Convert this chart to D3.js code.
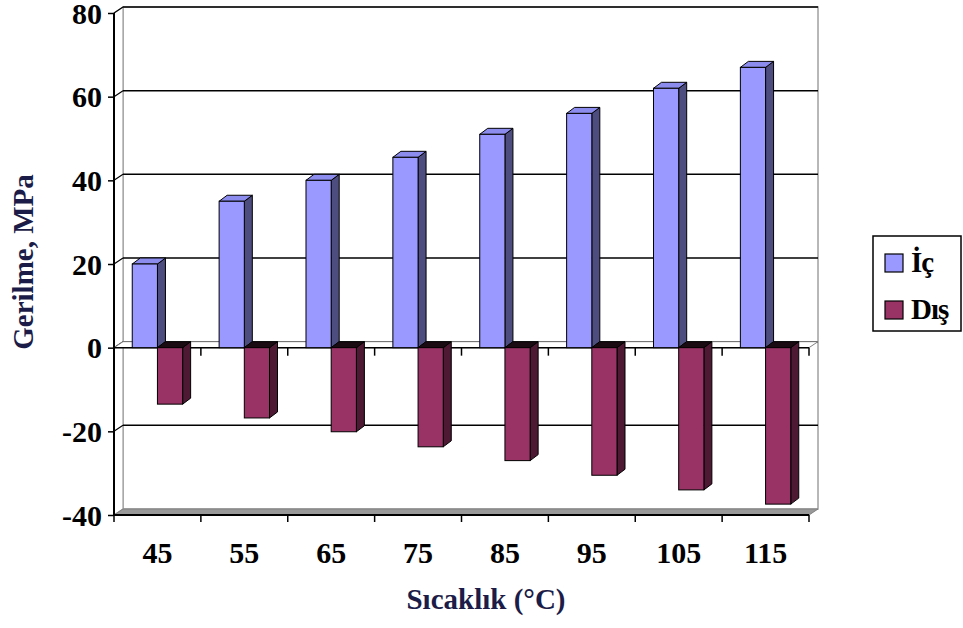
<!DOCTYPE html>
<html>
<head>
<meta charset="utf-8">
<script src="https://cdn.jsdelivr.net/npm/d3@7"></script>
<style>
body{margin:0;background:#fff;}
svg{display:block;}
text{font-family:"Liberation Serif","Times New Roman",serif;font-weight:bold;}
</style>
</head>
<body>
<script>
// dane
var sicakliklar=["45","55","65","75","85","95","105","115"];
var icDegerleri=[20,35,40,45.5,51,56,62,67];
var disDegerleri=[-13.5,-16.8,-20.1,-23.7,-27,-30.5,-34,-37.4];
var yEtiketleri=[-40,-20,0,20,40,60,80];
var seriler=["İç","Dış"];
var renkler={"İç":{on:"#9999ff",yan:"#4d4d80",ust:"#8c8cee"},"Dış":{on:"#993366",yan:"#4d1933",ust:"#1a0a12"}};

var W=963,H=628;
var svg=d3.select("body").append("svg").attr("width",W).attr("height",H);
svg.append("rect").attr("width",W).attr("height",H).attr("fill","#fff");

var lewo=114,prawo=809,gora=13,dol=515;
var gx=9,gy=-6;   // glebokosc scian
var bx=8,by=-6;   // glebokosc slupkow

var x=d3.scaleBand().domain(sicakliklar).range([lewo,prawo]).padding(0);
var y=d3.scaleLinear().domain([-40,80]).range([dol,gora]);
var bw=x.bandwidth(),barW=bw*0.29;
var xs=d3.scaleBand().domain(seriler).range([(bw-2*barW)/2,(bw+2*barW)/2]);

function pts(a){return a.map(function(p){return p.join(",");}).join(" ");}

// tylna sciana
svg.append("rect").attr("x",lewo+gx).attr("y",gora+gy).attr("width",prawo-lewo).attr("height",dol-gora)
  .attr("fill","#fff").attr("stroke","#a0a0a0").attr("stroke-width",1.5);
// lewa sciana
svg.append("polygon").attr("points",pts([[lewo,gora],[lewo+gx,gora+gy],[lewo+gx,dol+gy],[lewo,dol]]))
  .attr("fill","#fff").attr("stroke","#a0a0a0").attr("stroke-width",1.2);

// linie siatki
yEtiketleri.forEach(function(v){
  if(v===-40) return;
  var yy=y(v);
  svg.append("line").attr("x1",lewo+gx).attr("x2",prawo+gx).attr("y1",yy+gy).attr("y2",yy+gy)
    .attr("stroke","#000").attr("stroke-width",1.5);
  svg.append("line").attr("x1",lewo).attr("x2",lewo+gx).attr("y1",yy).attr("y2",yy+gy)
    .attr("stroke","#000").attr("stroke-width",1.2);
});

// podloga
svg.append("polygon").attr("points",pts([[lewo,dol],[lewo+gx,dol+gy],[prawo+gx,dol+gy],[prawo,dol]]))
  .attr("fill","#999").attr("stroke","#808080").attr("stroke-width",1);

// plaszczyzna zera
var y0=y(0);
svg.append("polygon").attr("points",pts([[lewo,y0],[lewo+gx,y0+gy],[prawo+gx,y0+gy],[prawo,y0]]))
  .attr("fill","#fff").attr("stroke","#808080").attr("stroke-width",1);
svg.append("line").attr("x1",lewo).attr("x2",prawo).attr("y1",y0).attr("y2",y0)
  .attr("stroke","#000").attr("stroke-width",1.5);
// kreski kategorii na zerze
sicakliklar.forEach(function(c){
  var xx=x(c)+bw;
  svg.append("line").attr("x1",xx).attr("x2",xx).attr("y1",y0).attr("y2",y0+8)
    .attr("stroke","#000").attr("stroke-width",1.5);
});

// slupki
sicakliklar.forEach(function(c,i){
  seriler.forEach(function(s){
    var v=(s==="İç")?icDegerleri[i]:disDegerleri[i];
    var x0=x(c)+xs(s),x1=x0+barW;
    var yt=y(Math.max(v,0)),yb=y(Math.min(v,0));
    var r=renkler[s];
    svg.append("polygon").attr("points",pts([[x1,yt],[x1+bx,yt+by],[x1+bx,yb+by],[x1,yb]]))
      .attr("fill",r.yan).attr("stroke","#000").attr("stroke-width",1);
    svg.append("polygon").attr("points",pts([[x0,yt],[x0+bx,yt+by],[x1+bx,yt+by],[x1,yt]]))
      .attr("fill",r.ust).attr("stroke","#000").attr("stroke-width",1);
    svg.append("rect").attr("x",x0).attr("y",yt).attr("width",barW).attr("height",yb-yt)
      .attr("fill",r.on).attr("stroke","#000").attr("stroke-width",1);
  });
});

// os Y
var osY=svg.append("g").attr("transform","translate("+lewo+",0)")
  .call(d3.axisLeft(y).tickValues(yEtiketleri).tickSize(6).tickPadding(6).tickFormat(function(d){return String(d);}));
osY.select(".domain").attr("stroke","#000").attr("stroke-width",2).attr("d","M0,"+gora+"V"+dol);
osY.selectAll(".tick line").attr("stroke","#000").attr("stroke-width",1.5);
osY.selectAll(".tick text").attr("fill","#000").style("font-size","30px").attr("dy","0.34em");

// os X
var osX=svg.append("g").attr("transform","translate(0,"+dol+")")
  .call(d3.axisBottom(x).tickSize(0).tickPadding(27));
osX.select(".domain").attr("stroke","#000").attr("stroke-width",2).attr("d","M"+lewo+",0H"+prawo);
osX.selectAll(".tick text").attr("fill","#000").style("font-size","30px");
[lewo].concat(sicakliklar.map(function(c){return x(c)+bw;})).forEach(function(xx){
  osX.append("line").attr("x1",xx).attr("x2",xx).attr("y1",0).attr("y2",7)
    .attr("stroke","#000").attr("stroke-width",1.5);
});

// tytuly osi
svg.append("text").attr("x",486).attr("y",609).attr("text-anchor","middle")
  .attr("fill","#1c1c48").style("font-size","29px").text("Sıcaklık (°C)");
svg.append("text").attr("transform","translate(33,262) rotate(-90)").attr("text-anchor","middle")
  .attr("fill","#1c1c48").style("font-size","29px").text("Gerilme, MPa");

// legenda
var leg=svg.append("g");
leg.append("rect").attr("x",873).attr("y",236).attr("width",88).attr("height",95)
  .attr("fill","#fff").attr("stroke","#000").attr("stroke-width",1.5);
seriler.forEach(function(s,i){
  var yy=254+i*47;
  leg.append("rect").attr("x",885).attr("y",yy).attr("width",18).attr("height",18)
    .attr("fill",renkler[s].on).attr("stroke","#000").attr("stroke-width",1.2);
  leg.append("text").attr("x",911).attr("y",yy+18).attr("fill","#000")
    .style("font-size","29px").style("letter-spacing","-1px").text(s);
});
</script>
</body>
</html>
